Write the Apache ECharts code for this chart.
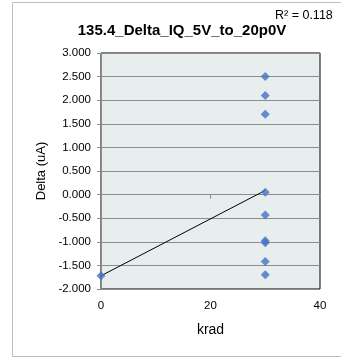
<!DOCTYPE html>
<html><head><meta charset="utf-8">
<script src="https://cdn.jsdelivr.net/npm/echarts@6/dist/echarts.min.js"></script>
<style>html,body{margin:0;padding:0;background:#fff}#c{width:341px;height:358px}</style>
</head><body><div id="c"></div>
<script>
const xVals = [0, 30, 30, 30, 30, 30, 30, 30, 30, 30];
const yVals = [-1.72, 2.5, 2.1, 1.7, 0.05, -0.43, -0.98, -1.02, -1.42, -1.70];
const xTicks = [0, 20, 40];
const yTicks = [-2, -1.5, -1, -0.5, 0, 0.5, 1, 1.5, 2, 2.5, 3];
const titleText = '135.4_Delta_IQ_5V_to_20p0V';
const r2Text = 'R² = 0.118';

// linear regression trendline from the data
const n = xVals.length;
const mx = xVals.reduce((a,b)=>a+b,0)/n, my = yVals.reduce((a,b)=>a+b,0)/n;
let sxy=0, sxx=0;
for (let i=0;i<n;i++){sxy+=(xVals[i]-mx)*(yVals[i]-my);sxx+=(xVals[i]-mx)**2;}
const slope = sxy/sxx, icpt = my - slope*mx;
const trend = [[0, icpt], [30, icpt + slope*30]];

const chart = echarts.init(document.getElementById('c'));
const font = 'Liberation Sans, Arial, sans-serif';
chart.setOption({
  animation:false,
  graphic:[
    {type:'rect', shape:{x:12.5,y:2.5,width:340,height:354}, style:{fill:'none', stroke:'#bfbfbf', lineWidth:1}},
    {type:'text', left:275, top:9, style:{text:r2Text, font:'12.5px '+font, fill:'#000'}}
  ],
  title:{text:titleText, left:177, textAlign:'center', top:18,
    textStyle:{fontFamily:font, fontSize:15, fontWeight:'bold', color:'#000'}},
  grid:{left:101, top:53, width:219, height:236, show:true, backgroundColor:'#e8eded', borderColor:'#000', borderWidth:1},
  xAxis:{type:'value', min:0, max:40, interval:20,
    name:'krad', nameLocation:'middle', nameGap:34,
    nameTextStyle:{fontFamily:font, fontSize:14, color:'#000'},
    axisLine:{lineStyle:{color:'#8c8c8c'}},
    axisTick:{show:true, inside:false, length:4, lineStyle:{color:'#8c8c8c'}},
    axisLabel:{fontFamily:font, fontSize:11.5, color:'#000', margin:11},
    splitLine:{show:false}},
  yAxis:{type:'value', min:-2, max:3, interval:0.5,
    name:'Delta (uA)', nameLocation:'middle', nameGap:50,
    nameTextStyle:{fontFamily:font, fontSize:13, color:'#000'},
    axisLine:{show:true, lineStyle:{color:'#8c8c8c'}},
    axisTick:{show:true, length:4, lineStyle:{color:'#8c8c8c'}},
    axisLabel:{fontFamily:font, fontSize:11.5, color:'#000', margin:10, formatter:v=>v.toFixed(3)},
    splitLine:{show:true, lineStyle:{color:'#8c8c8c', width:1}}},
  series:[
    {type:'line', data:trend, symbol:'none', lineStyle:{color:'#000', width:1}, z:3},
    {type:'scatter', data:xVals.map((x,i)=>[x,yVals[i]]), symbol:'diamond', symbolSize:9,
      itemStyle:{color:'#4472c4'}, z:4}
  ]
});
</script></body></html>
